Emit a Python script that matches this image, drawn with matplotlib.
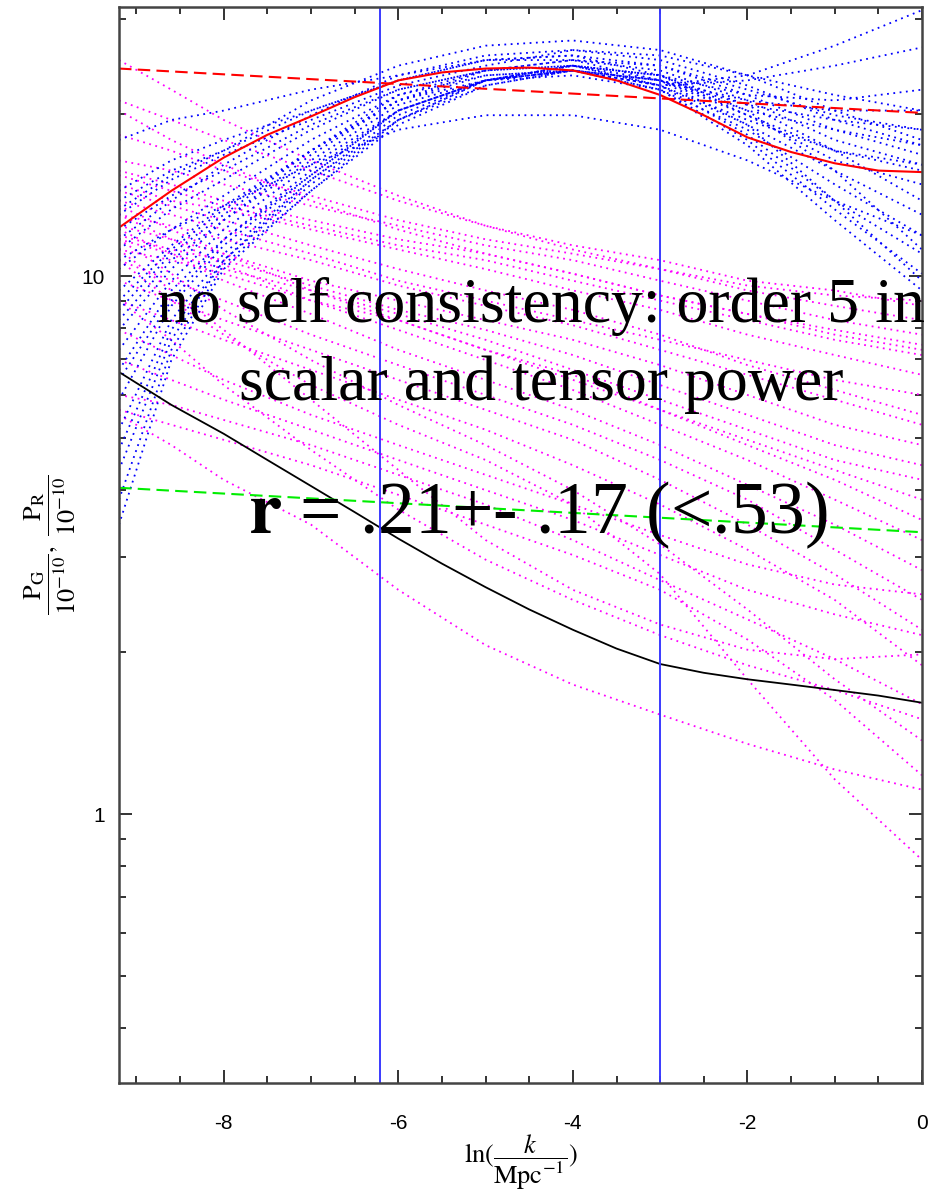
import numpy as np
import matplotlib.pyplot as plt
from matplotlib.ticker import MultipleLocator, LogLocator, NullFormatter

plt.rcParams['font.family'] = 'Liberation Sans'
plt.rcParams['mathtext.fontset'] = 'stix'
plt.rcParams['axes.unicode_minus'] = False

lnk = [-9.2, -8.6, -8, -7, -6, -5, -4, -3, -2, -1, 0]
# finer nodes for the two best fit curves
lnk_fit = [-9.2, -8.6, -8, -7.5, -7, -6.5, -6, -5.5, -5, -4.5, -4,
           -3.5, -3, -2.5, -2, -1.5, -1, -0.5, 0]

# best fit scalar power (solid) and power law (dashed)
scalar_fit = [12.3, 14.4, 16.6, 18.3, 19.8, 21.5, 23.1, 23.9, 24.3, 24.4,
              24.1, 23.1, 21.7, 19.9, 18.1, 17.0, 16.2, 15.7, 15.6]
scalar_pl_x = [-9.2, 0]
scalar_pl = [24.3, 20.1]
# best fit tensor power (solid) and power law (dashed)
tensor_fit = [6.63, 5.76, 5.09, 4.55, 4.07, 3.64, 3.25, 2.92, 2.64, 2.40,
              2.20, 2.03, 1.90, 1.83, 1.78, 1.74, 1.70, 1.66, 1.61]
tensor_pl_x = [-9.2, 0]
tensor_pl = [4.04, 3.34]
# pivot scales
pivots = [-6.21, -3.0]

# sampled scalar spectra (blue dotted)
scalar_samples = [
    [17.9, 19.5, 20.3, 22.2, 23.6, 25.2, 25.7, 23.6, 19.9, 17.1, 15.7],
    [14.4, 16.4, 17.9, 20.3, 23.1, 25.2, 25.2, 23.1, 20.3, 18.7, 17.5],
    [12.2, 14.1, 15.7, 19.1, 22.2, 24.1, 24.6, 22.6, 19.5, 17.1, 16.1],
    [11.2, 13.3, 15.1, 18.7, 22.2, 24.1, 24.6, 23.1, 20.8, 19.5, 18.7],
    [10.3, 12.2, 14.1, 17.9, 21.7, 23.6, 24.1, 22.6, 19.1, 15.7, 13.0],
    [9.4, 11.4, 13.5, 17.1, 21.2, 23.1, 24.1, 22.2, 18.7, 14.8, 11.9],
    [8.65, 11.0, 13.0, 17.1, 21.2, 23.6, 24.1, 23.1, 19.9, 16.4, 14.8],
    [7.94, 10.3, 12.7, 16.4, 20.8, 23.1, 24.1, 22.6, 18.3, 13.8, 11.0],
    [7.29, 9.8, 12.2, 16.1, 20.3, 23.1, 24.1, 22.2, 17.9, 13.3, 10.1],
    [6.69, 9.4, 11.7, 15.7, 20.3, 23.1, 23.6, 22.2, 17.5, 12.7, 9.4],
    [5.89, 8.8, 11.4, 15.4, 20.3, 23.1, 24.1, 23.1, 21.2, 20.3, 20.3],
    [5.18, 8.28, 11.0, 15.1, 19.9, 23.1, 24.6, 23.6, 21.7, 21.2, 22.2],
    [4.36, 7.61, 10.7, 14.8, 19.5, 23.1, 24.6, 22.6, 23.1, 24.6, 26.6],
    [3.45, 6.98, 10.3, 14.4, 19.5, 22.6, 24.1, 22.6, 23.6, 26.8, 31.2],
    [13.8, 15.7, 17.1, 20.3, 23.1, 25.2, 25.7, 24.6, 21.7, 18.7, 16.8],
    [13.0, 15.1, 16.8, 19.5, 22.6, 24.6, 26.3, 25.2, 22.6, 19.5, 17.5],
    [10.7, 12.2, 13.5, 16.1, 18.7, 19.9, 19.9, 18.7, 16.4, 13.8, 11.9],
    [13.3, 15.4, 17.1, 21.2, 24.6, 26.8, 27.4, 26.3, 23.6, 20.3, 17.9],
    [11.7, 13.8, 16.1, 19.9, 23.6, 25.7, 26.3, 25.7, 23.6, 21.7, 20.3],
    [9.0, 11.2, 13.3, 17.1, 21.7, 24.1, 25.2, 24.6, 22.2, 19.9, 18.7],
    [8.28, 10.7, 12.7, 16.8, 21.2, 24.1, 25.2, 24.1, 21.2, 17.9, 16.1],
    [6.41, 9.0, 11.7, 15.4, 20.3, 23.1, 24.6, 23.6, 20.8, 17.1, 13.8],
    [4.75, 7.94, 10.7, 15.1, 19.5, 23.1, 24.6, 23.6, 20.3, 15.7, 11.2],
    [3.84, 7.29, 10.5, 14.4, 19.1, 22.6, 24.1, 23.1, 19.1, 13.8, 9.8],
]

# sampled tensor spectra (magenta dotted)
tensor_samples = [
    [25.2, 22.2, 19.5, 16.4, 14.1, 12.4, 11.2, 10.3, 9.6, 9.2, 9.0],
    [21.2, 19.5, 17.9, 15.7, 13.8, 12.4, 11.4, 10.7, 9.8, 9.4, 8.8],
    [18.3, 17.1, 15.7, 14.1, 12.7, 11.7, 11.0, 10.3, 9.4, 8.8, 8.28],
    [16.4, 15.7, 14.8, 13.5, 12.4, 11.4, 10.7, 9.8, 9.0, 8.28, 7.78],
    [15.4, 14.4, 13.5, 12.4, 11.4, 10.7, 9.8, 9.0, 8.28, 7.61, 7.13],
    [14.8, 13.8, 13.3, 12.2, 11.2, 10.3, 9.4, 8.65, 7.78, 7.13, 6.55],
    [13.8, 13.0, 12.2, 11.0, 9.8, 9.0, 8.28, 7.61, 6.98, 6.41, 6.01],
    [13.0, 12.4, 11.7, 10.7, 9.6, 8.8, 8.1, 7.29, 6.55, 5.89, 5.29],
    [12.4, 11.7, 11.0, 9.8, 9.0, 8.28, 7.61, 6.83, 6.01, 5.29, 4.85],
    [11.9, 11.2, 10.7, 9.6, 8.65, 7.94, 7.13, 6.27, 5.52, 4.85, 4.45],
    [11.7, 11.0, 10.3, 9.4, 8.5, 7.61, 6.69, 5.89, 5.18, 4.55, 4.18],
    [11.2, 10.7, 10.1, 9.0, 8.28, 7.29, 6.55, 5.64, 4.96, 4.36, 3.84],
    [13.5, 12.2, 11.0, 9.4, 8.28, 7.29, 6.41, 5.64, 4.85, 4.18, 3.52],
    [13.0, 11.7, 10.5, 9.0, 7.94, 6.98, 6.14, 5.29, 4.55, 3.84, 3.23],
    [12.2, 11.0, 9.8, 8.5, 7.29, 6.41, 5.64, 4.85, 4.09, 3.45, 2.84],
    [10.7, 9.8, 9.0, 7.78, 6.83, 6.01, 5.29, 4.55, 3.84, 3.10, 2.50],
    [9.8, 9.0, 8.28, 7.29, 6.41, 5.64, 4.96, 4.18, 3.45, 2.79, 2.20],
    [9.0, 8.28, 7.61, 6.69, 5.89, 5.18, 4.45, 3.76, 3.10, 2.50, 1.89],
    [7.94, 7.13, 6.41, 5.52, 4.85, 4.27, 3.76, 3.30, 2.91, 2.67, 2.56],
    [6.98, 6.41, 5.89, 5.18, 4.55, 4.00, 3.52, 3.03, 2.61, 2.35, 2.15],
    [6.01, 5.76, 5.40, 4.85, 4.27, 3.76, 3.23, 2.72, 2.30, 1.94, 1.60],
    [5.64, 5.29, 4.96, 4.45, 3.92, 3.45, 3.03, 2.61, 2.11, 1.63, 1.18],
    [5.52, 4.85, 4.18, 3.45, 2.61, 2.06, 1.74, 1.53, 1.35, 1.21, 1.11],
    [9.0, 7.61, 6.27, 4.75, 3.68, 2.97, 2.50, 2.15, 1.89, 1.70, 1.50],
    [11.2, 9.4, 7.94, 5.89, 4.36, 3.23, 2.61, 2.25, 2.02, 1.94, 1.98],
    [10.7, 9.0, 7.78, 6.27, 5.29, 4.55, 3.76, 2.79, 1.78, 1.16, 0.822],
    [11.7, 10.1, 8.65, 6.98, 5.76, 4.85, 4.00, 3.17, 2.40, 1.78, 1.37],
    [15.7, 14.8, 13.8, 12.7, 11.7, 11.0, 10.1, 9.2, 8.5, 7.94, 7.45],
    [20.3, 17.9, 16.1, 13.8, 12.2, 11.0, 10.1, 9.2, 8.5, 7.78, 7.29],
    [14.4, 13.5, 12.7, 11.4, 10.3, 9.4, 8.65, 7.78, 6.83, 6.14, 5.52],
]

fig = plt.figure(figsize=(9.35, 11.94), dpi=100)
ax = fig.add_axes([119 / 935, 111 / 1194, 803 / 935, 1076 / 1194])

dots = (0, (1, 2.5))
for t in tensor_samples:
    ax.plot(lnk, t, color='#ff00ff', lw=1.3, ls=dots)
for s in scalar_samples:
    ax.plot(lnk, s, color='#0000ff', lw=1.3, ls=dots)

ax.plot(lnk_fit, scalar_fit, color='#ff0000', lw=1.5)
ax.plot(scalar_pl_x, scalar_pl, color='#ff0000', lw=1.5, ls=(0, (6, 3)))
ax.plot(lnk_fit, tensor_fit, color='black', lw=1.3)
ax.plot(tensor_pl_x, tensor_pl, color='#00ee00', lw=1.5, ls=(0, (6, 3)))
for p in pivots:
    ax.axvline(p, color='#3a3aff', lw=1.4)

ax.set_yscale('log')
ax.set_xlim(-9.2, 0)
ax.set_ylim(10 ** -0.5, 10 ** 1.5)

ax.xaxis.set_major_locator(MultipleLocator(2))
ax.xaxis.set_minor_locator(MultipleLocator(0.5))
ax.set_yticks([1, 10], ['1', '10'])
ax.yaxis.set_minor_locator(LogLocator(base=10, subs=np.arange(2, 10)))
ax.yaxis.set_minor_formatter(NullFormatter())

ax.tick_params(which='both', direction='in', top=True, right=True,
               width=1.4, color='#333333', labelsize=15)
ax.tick_params(which='major', length=9.5)
ax.tick_params(which='minor', length=4.8)
ax.tick_params(axis='x', pad=22)
ax.tick_params(axis='y', pad=10)
for sp in ax.spines.values():
    sp.set_linewidth(1.8)
    sp.set_color('#444444')

ax.set_xlabel(r'$\ln(\dfrac{k}{\mathrm{Mpc}^{-1}})$', fontsize=19, labelpad=0)
ax.set_ylabel(r'$\dfrac{\mathrm{P_G}}{10^{-10}},\ \dfrac{\mathrm{P_R}}{10^{-10}}$',
              fontsize=19, labelpad=3)

serif = 'Liberation Serif'
fig.text(541 / 935, 1 - 322 / 1194, 'no self consistency: order 5 in',
         ha='center', va='baseline', fontsize=46, family=serif)
fig.text(541 / 935, 1 - 400 / 1194, 'scalar and tensor power',
         ha='center', va='baseline', fontsize=46, family=serif)
fig.text(538 / 935, 1 - 533 / 1194, r'$\mathbf{r}$ = .21+- .17 (<.53)',
         ha='center', va='baseline', fontsize=53, family=serif)

fig.savefig('out.png', dpi=100)
